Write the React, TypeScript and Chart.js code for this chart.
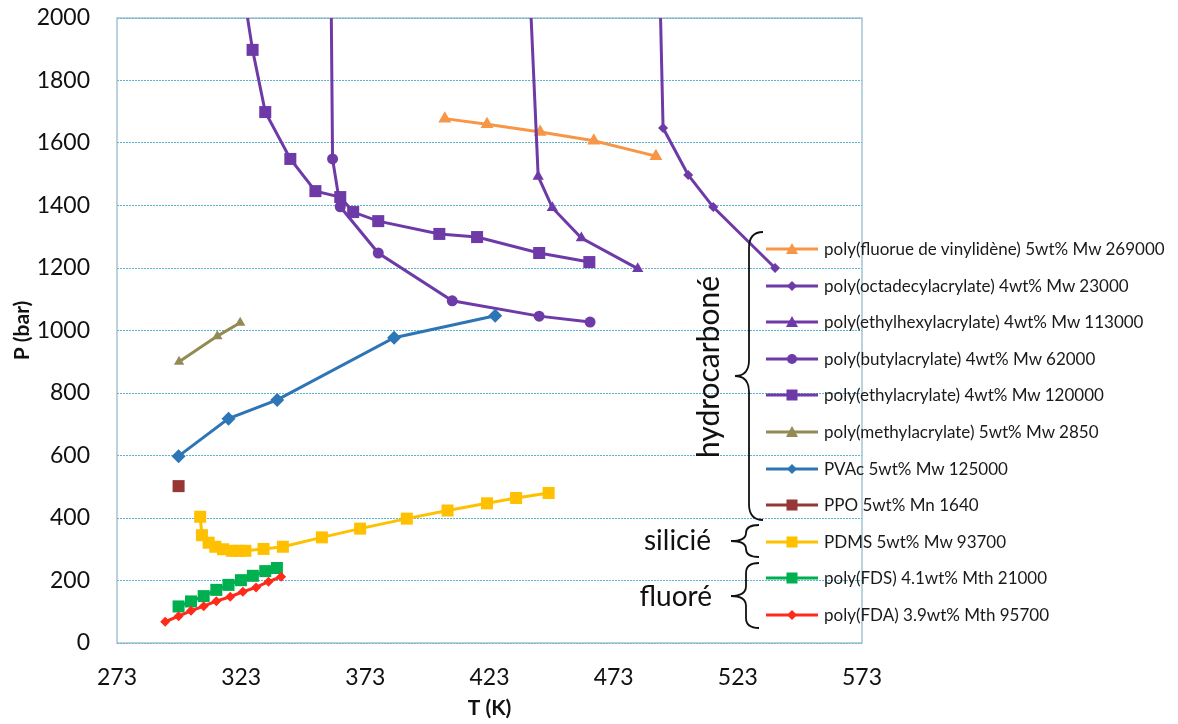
import React, { useEffect, useRef } from 'react';
import { Chart, registerables } from 'chart.js';
Chart.register(...registerables);

// ---------- data (T in K, P in bar) ----------
const tickT = [273, 323, 373, 423, 473, 523, 573];

const pvdfT = [405, 422, 443.4, 465, 490];
const pvdfP = [1678, 1660, 1635, 1607, 1558];

const odaT = [491.6, 492.9, 503, 513.1, 538];
const odaP = [2100, 1648, 1498, 1395, 1200];

const ehaT = [439.2, 442.6, 448.3, 460, 482.7];
const ehaP = [2100, 1493, 1393, 1296, 1198];

const baT = [359.2, 359.8, 362.9, 378.2, 408, 443, 463.5];
const baP = [2100, 1549, 1396, 1248, 1095, 1046, 1027];

const eaT = [323.6, 327.6, 332.7, 342.8, 352.9, 362.9, 368.1, 378.2, 402.8, 418, 443, 463.2];
const eaP = [2100, 1898, 1699, 1549, 1446, 1427, 1379, 1350, 1309, 1299, 1248, 1219];

const maT = [298, 313.4, 322.6];
const maP = [900, 982, 1025];

const pvacT = [297.8, 317.9, 337.5, 384.6, 425.3];
const pvacP = [598, 718, 778, 977, 1047];

const ppoT = [297.8];
const ppoP = [502];

const pdmsT = [306.5, 307.2, 309.9, 312.6, 315.7, 319.3, 322, 324.7, 332, 339.8, 355.5, 370.9, 389.7, 406.1, 422, 433.7, 446.8];
const pdmsP = [404, 345, 321, 308, 300, 295, 295, 295, 301, 308, 338, 366, 398, 424, 447, 464, 480];

const fdsT = [297.8, 302.8, 307.9, 313, 317.9, 322.9, 327.7, 332.7, 337.4];
const fdsP = [117, 133, 150, 170, 186, 201, 215, 230, 240];

const fdaT = [292.4, 297.8, 302.8, 307.9, 313, 318.6, 323.7, 329, 334, 339.1];
const fdaP = [68, 86, 103, 118, 134, 148, 164, 178, 196, 212];

const labels = [
  'poly(fluorue de vinylidène) 5wt% Mw 269000',
  'poly(octadecylacrylate) 4wt% Mw 23000',
  'poly(ethylhexylacrylate) 4wt% Mw 113000',
  'poly(butylacrylate) 4wt% Mw 62000',
  'poly(ethylacrylate) 4wt% Mw 120000',
  'poly(methylacrylate) 5wt% Mw 2850',
  'PVAc 5wt% Mw 125000',
  'PPO 5wt% Mn 1640',
  'PDMS 5wt% Mw 93700',
  'poly(FDS) 4.1wt% Mth 21000',
  'poly(FDA) 3.9wt% Mth 95700',
];

const groupLabels = ['hydrocarboné', 'silicié', 'fluoré'];

const PURPLE = '#6E3AA8';

type Series = { T: number[]; P: number[]; color: string; style: string; r: number };
const series: Series[] = [
  { T: pvdfT, P: pvdfP, color: '#F79646', style: 'triangle', r: 7.5 },
  { T: odaT, P: odaP, color: PURPLE, style: 'rectRot', r: 5 },
  { T: ehaT, P: ehaP, color: PURPLE, style: 'triangle', r: 6.5 },
  { T: baT, P: baP, color: PURPLE, style: 'circle', r: 5.5 },
  { T: eaT, P: eaP, color: PURPLE, style: 'rect', r: 8.5 },
  { T: maT, P: maP, color: '#948A54', style: 'triangle', r: 6 },
  { T: pvacT, P: pvacP, color: '#2E75B6', style: 'rectRot', r: 7 },
  { T: ppoT, P: ppoP, color: '#953735', style: 'rect', r: 8.5 },
  { T: pdmsT, P: pdmsP, color: '#FFC000', style: 'rect', r: 8.5 },
  { T: fdsT, P: fdsP, color: '#00B050', style: 'rect', r: 8.5 },
  { T: fdaT, P: fdaP, color: '#FF2A1A', style: 'rectRot', r: 5 },
];

const FONT = 'Lato, "Open Sans", sans-serif';

const frame = {
  id: 'frame',
  beforeDatasetsDraw(chart: any) {
    const { ctx, chartArea: a } = chart;
    ctx.save();
    ctx.strokeStyle = '#8DB4C8';
    ctx.lineWidth = 1.2;
    ctx.strokeRect(a.left, a.top, a.right - a.left, a.bottom - a.top);
    ctx.restore();
  },
};

function Marker({ style, color }: { style: string; color: string }) {
  const cx = 26, cy = 7;
  let m: any = null;
  if (style === 'triangle') m = <polygon points={`${cx},${cy - 6} ${cx + 6},${cy + 5} ${cx - 6},${cy + 5}`} fill={color} />;
  else if (style === 'rectRot') m = <polygon points={`${cx},${cy - 5} ${cx + 5},${cy} ${cx},${cy + 5} ${cx - 5},${cy}`} fill={color} />;
  else if (style === 'circle') m = <circle cx={cx} cy={cy} r={5} fill={color} />;
  else m = <rect x={cx - 5.5} y={cy - 5.5} width={11} height={11} fill={color} />;
  return (
    <svg width={52} height={14} style={{ position: 'absolute', left: 0, top: 3 }}>
      <line x1={0} y1={cy} x2={52} y2={cy} stroke={color} strokeWidth={3} />
      {m}
    </svg>
  );
}

function brace(y1: number, y2: number, ym: number, s: number, t: number, h: number, r: number) {
  return `M ${h} ${y1} Q ${s} ${y1} ${s} ${y1 + r} L ${s} ${ym - r} Q ${s} ${ym} ${t} ${ym} Q ${s} ${ym} ${s} ${ym + r} L ${s} ${y2 - r} Q ${s} ${y2} ${h} ${y2}`;
}

export default function App() {
  const ref = useRef<HTMLCanvasElement>(null);
  useEffect(() => {
    const datasets = series.map((s, i) => ({
      label: labels[i],
      data: s.T.map((t, j) => ({ x: t, y: s.P[j] })),
      borderColor: s.color,
      backgroundColor: s.color,
      pointStyle: s.style,
      pointRadius: (c: any) => (c.raw && c.raw.y > 2000 ? 0 : s.r),
      pointHoverRadius: s.r,
      pointBorderWidth: 0,
      borderWidth: 3,
      tension: 0,
      order: series.length - i,
    }));
    const chart = new Chart(ref.current!, {
      type: 'line',
      data: { datasets },
      plugins: [frame],
      options: {
        responsive: false,
        animation: false,
        layout: { padding: { left: 0, right: 316, top: 18, bottom: 0 } },
        plugins: { legend: { display: false }, tooltip: { enabled: false } },
        scales: {
          x: {
            type: 'linear',
            min: tickT[0],
            max: tickT[tickT.length - 1],
            afterBuildTicks: (sc: any) => { sc.ticks = tickT.map((v) => ({ value: v })); },
            ticks: { font: { family: FONT, size: 23 }, color: '#111', padding: 21, callback: (v: any) => String(v) },
            grid: { display: false, drawTicks: false },
            border: { display: false },
            title: { display: true, text: 'T (K)', font: { family: FONT, size: 21, weight: 'bold' }, color: '#111', padding: { top: 0, bottom: 3 } },
            afterFit: (sc: any) => { sc.height = 81; },
          },
          y: {
            min: 0,
            max: 2000,
            ticks: { stepSize: 200, font: { family: FONT, size: 23 }, color: '#111', padding: 27, callback: (v: any) => String(v) },
            grid: { color: '#5AB4D0', lineWidth: 1, drawTicks: false },
            border: { display: false, dash: [2, 1] },
            title: { display: true, text: 'P (bar)', font: { family: FONT, size: 21, weight: 'bold' }, color: '#111', padding: { top: 10, bottom: 0 } },
            afterFit: (sc: any) => { sc.width = 117; sc.paddingTop = 14; sc.paddingBottom = 14; },
          },
        },
      } as any,
    });
    return () => chart.destroy();
  }, []);

  const rowY0 = 249;
  const rowStep = 36.6;
  return (
    <div style={{ position: 'fixed', left: 0, top: 0, width: 1178, height: 724, background: '#fff', overflow: 'hidden' }}>
      <canvas ref={ref} width={1178} height={724} style={{ position: 'absolute', left: 0, top: 0 }} />
      {labels.map((l, i) => (
        <div key={l} style={{ position: 'absolute', left: 766, top: rowY0 + i * rowStep - 10, height: 20, width: 410 }}>
          <Marker style={series[i].style} color={series[i].color} />
          <span style={{ position: 'absolute', left: 58, top: 0, lineHeight: '20px', fontFamily: FONT, fontSize: 17, color: '#1a1a1a', whiteSpace: 'nowrap' }}>{l}</span>
        </div>
      ))}
      <svg width={1178} height={724} style={{ position: 'absolute', left: 0, top: 0, pointerEvents: 'none' }}>
        <g fill="none" stroke="#111" strokeWidth={1.8}>
          <path d={brace(232, 520, 376, 749, 735, 763, 16)} />
          <path d={brace(525, 557, 541, 746, 731, 759, 8)} />
          <path d={brace(563, 628, 596, 746, 731, 759, 10)} />
        </g>
        <text x={0} y={0} transform="translate(719 367) rotate(-90)" textAnchor="middle" fontFamily={FONT} fontSize={30} fill="#111">{groupLabels[0]}</text>
        <text x={711} y={550} textAnchor="end" fontFamily={FONT} fontSize={28} fill="#111">{groupLabels[1]}</text>
        <text x={712} y={606} textAnchor="end" fontFamily={FONT} fontSize={28} fill="#111">{groupLabels[2]}</text>
      </svg>
    </div>
  );
}
